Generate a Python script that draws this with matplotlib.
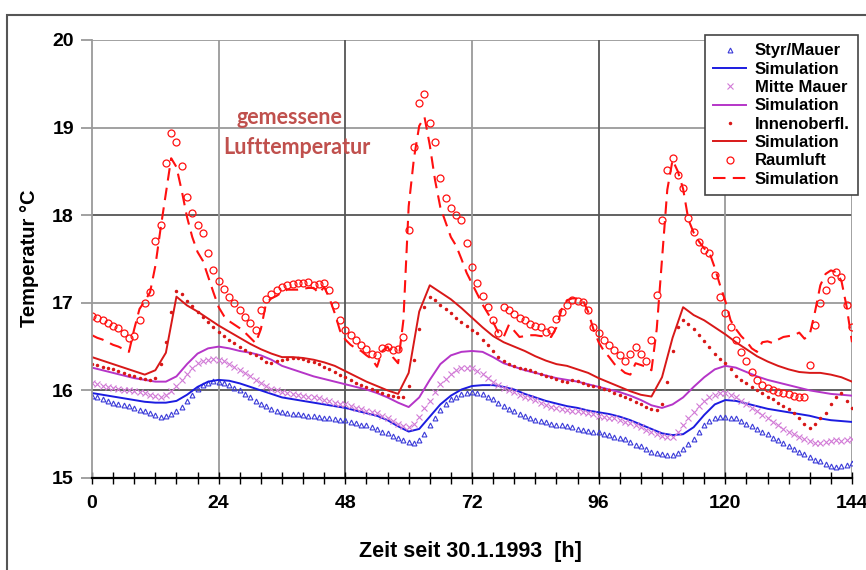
import matplotlib
matplotlib.use('Agg')
import matplotlib.pyplot as plt
from matplotlib.patches import Rectangle

# Stundenwerte (gemessen) und 2-h-Werte (Simulation)
hours = list(range(0, 145))
hours_2h = list(range(0, 145, 2))

styr_mauer = [
    15.94, 15.92, 15.90, 15.88, 15.86, 15.85, 15.83, 15.82, 15.80, 15.78,
    15.76, 15.74, 15.72, 15.70, 15.71, 15.73, 15.76, 15.81, 15.88, 15.95,
    16.02, 16.06, 16.09, 16.11, 16.10, 16.08, 16.06, 16.03, 16.00, 15.96,
    15.92, 15.88, 15.85, 15.82, 15.79, 15.77, 15.75, 15.74, 15.73, 15.73,
    15.72, 15.71, 15.71, 15.70, 15.69, 15.68, 15.67, 15.66, 15.66, 15.64,
    15.63, 15.61, 15.60, 15.58, 15.56, 15.53, 15.51, 15.48, 15.46, 15.43,
    15.41, 15.40, 15.43, 15.50, 15.60, 15.69, 15.78, 15.85, 15.90, 15.93,
    15.96, 15.97, 15.98, 15.97, 15.96, 15.93, 15.90, 15.86, 15.82, 15.79,
    15.76, 15.73, 15.71, 15.68, 15.66, 15.65, 15.64, 15.62, 15.61, 15.60,
    15.59, 15.58, 15.56, 15.55, 15.54, 15.53, 15.52, 15.50, 15.49, 15.47,
    15.46, 15.44, 15.41, 15.38, 15.36, 15.33, 15.30, 15.28, 15.27, 15.26,
    15.26, 15.29, 15.33, 15.39, 15.45, 15.53, 15.60, 15.65, 15.68, 15.70,
    15.70, 15.69, 15.68, 15.65, 15.62, 15.59, 15.56, 15.53, 15.50, 15.46,
    15.43, 15.40, 15.37, 15.33, 15.30, 15.27, 15.24, 15.21, 15.19, 15.16,
    15.14, 15.13, 15.14, 15.15, 15.17]

mitte_mauer = [
    16.08, 16.07, 16.05, 16.04, 16.03, 16.02, 16.01, 16.00, 15.99, 15.98,
    15.97, 15.95, 15.94, 15.93, 15.95, 15.99, 16.05, 16.12, 16.19, 16.26,
    16.31, 16.34, 16.35, 16.36, 16.35, 16.33, 16.30, 16.27, 16.23, 16.20,
    16.16, 16.12, 16.08, 16.05, 16.02, 16.00, 15.98, 15.97, 15.96, 15.95,
    15.94, 15.93, 15.92, 15.91, 15.89, 15.88, 15.86, 15.85, 15.84, 15.82,
    15.80, 15.79, 15.77, 15.75, 15.74, 15.71, 15.68, 15.65, 15.62, 15.59,
    15.58, 15.62, 15.70, 15.80, 15.88, 15.98, 16.07, 16.13, 16.19, 16.23,
    16.26, 16.26, 16.25, 16.22, 16.19, 16.14, 16.10, 16.06, 16.03, 16.00,
    15.98, 15.95, 15.93, 15.91, 15.89, 15.86, 15.83, 15.81, 15.80, 15.79,
    15.78, 15.77, 15.76, 15.75, 15.74, 15.73, 15.71, 15.70, 15.69, 15.68,
    15.66, 15.64, 15.63, 15.61, 15.58, 15.55, 15.52, 15.50, 15.48, 15.47,
    15.47, 15.52, 15.60, 15.68, 15.75, 15.82, 15.88, 15.92, 15.95, 15.97,
    15.97, 15.95, 15.92, 15.88, 15.84, 15.80, 15.76, 15.72, 15.68, 15.64,
    15.60, 15.56, 15.53, 15.50, 15.47, 15.44, 15.42, 15.40, 15.40, 15.41,
    15.42, 15.43, 15.42, 15.43, 15.44]

innenoberfl = [
    16.30, 16.29, 16.27, 16.26, 16.24, 16.22, 16.20, 16.18, 16.16, 16.14,
    16.13, 16.12, 16.14, 16.30, 16.55, 16.90, 17.14, 17.10, 17.02, 16.96,
    16.90, 16.84, 16.78, 16.72, 16.67, 16.62, 16.58, 16.54, 16.50, 16.46,
    16.43, 16.40, 16.37, 16.32, 16.31, 16.33, 16.35, 16.36, 16.37, 16.37,
    16.36, 16.34, 16.32, 16.30, 16.27, 16.24, 16.21, 16.18, 16.15, 16.12,
    16.09, 16.06, 16.04, 16.02, 15.99, 15.97, 15.95, 15.94, 15.93, 15.93,
    16.05, 16.35, 16.70, 16.95, 17.07, 17.03, 16.98, 16.93, 16.88, 16.83,
    16.78, 16.73, 16.69, 16.65, 16.58, 16.52, 16.45, 16.38, 16.33, 16.30,
    16.28, 16.26, 16.24, 16.23, 16.21, 16.19, 16.17, 16.15, 16.13, 16.11,
    16.10, 16.12, 16.11, 16.08, 16.06, 16.05, 16.04, 16.02, 16.00, 15.97,
    15.95, 15.92, 15.90, 15.87, 15.84, 15.81, 15.79, 15.78, 15.85, 16.10,
    16.45, 16.72, 16.80, 16.76, 16.70, 16.63, 16.56, 16.49, 16.42, 16.36,
    16.31, 16.24, 16.17, 16.12, 16.08, 16.04, 16.00, 15.97, 15.93, 15.90,
    15.86, 15.82, 15.79, 15.74, 15.68, 15.62, 15.57, 15.62, 15.68, 15.74,
    15.84, 15.93, 15.97, 15.88, 15.80]

raumluft = [
    16.85, 16.83, 16.80, 16.77, 16.74, 16.71, 16.66, 16.60, 16.62, 16.80,
    17.00, 17.12, 17.70, 17.89, 18.60, 18.94, 18.84, 18.56, 18.21, 18.03,
    17.89, 17.80, 17.57, 17.38, 17.25, 17.16, 17.07, 17.00, 16.92, 16.84,
    16.77, 16.69, 16.92, 17.04, 17.10, 17.15, 17.18, 17.20, 17.21, 17.23,
    17.23, 17.24, 17.20, 17.22, 17.23, 17.15, 16.98, 16.80, 16.69, 16.63,
    16.58, 16.52, 16.47, 16.42, 16.40, 16.48, 16.49, 16.46, 16.47, 16.61,
    17.83, 18.78, 19.28, 19.38, 19.05, 18.84, 18.42, 18.20, 18.08, 18.00,
    17.95, 17.68, 17.41, 17.23, 17.08, 16.95, 16.80, 16.66, 16.95, 16.92,
    16.87, 16.83, 16.80, 16.76, 16.74, 16.72, 16.67, 16.69, 16.82, 16.90,
    16.98, 17.03, 17.02, 17.01, 16.92, 16.72, 16.65, 16.58, 16.52, 16.46,
    16.40, 16.34, 16.42, 16.50, 16.41, 16.33, 16.58, 17.09, 17.95, 18.52,
    18.65, 18.46, 18.31, 17.97, 17.81, 17.69, 17.60, 17.57, 17.32, 17.07,
    16.88, 16.72, 16.58, 16.44, 16.33, 16.21, 16.12, 16.06, 16.03, 16.00,
    15.98, 15.97, 15.96, 15.94, 15.93, 15.92, 16.29, 16.75, 17.00, 17.15,
    17.26, 17.35, 17.30, 16.98, 16.72]

sim_raumluft = [
    16.63, 16.60, 16.58, 16.55, 16.52, 16.50, 16.47, 16.44, 16.70, 16.93,
    17.02, 17.12, 17.42, 17.85, 18.25, 18.65, 18.55, 18.28, 17.98, 17.75,
    17.58, 17.48, 17.30, 17.12, 16.95, 16.85, 16.79, 16.75, 16.71, 16.66,
    16.60, 16.54, 16.70, 17.00, 17.05, 17.08, 17.12, 17.15, 17.15, 17.15,
    17.16, 17.17, 17.17, 17.11, 17.18, 17.05, 16.88, 16.68, 16.58, 16.52,
    16.48, 16.45, 16.40, 16.36, 16.27, 16.45, 16.50, 16.38, 16.31, 16.80,
    18.10, 18.65, 19.02, 19.12, 18.80, 18.40, 18.09, 17.92, 17.75, 17.65,
    17.50, 17.34, 17.22, 17.10, 16.98, 16.88, 16.78, 16.66, 16.61, 16.75,
    16.68, 16.61, 16.62, 16.63, 16.63, 16.62, 16.62, 16.61, 16.72, 16.93,
    17.03, 17.05, 17.05, 17.03, 16.90, 16.70, 16.55, 16.45, 16.38, 16.30,
    16.25, 16.20, 16.18, 16.31, 16.29, 16.27, 16.23, 16.70, 17.50, 18.29,
    18.63, 18.50, 18.30, 17.95, 17.80, 17.70, 17.62, 17.57, 17.40, 17.20,
    17.02, 16.80, 16.70, 16.62, 16.56, 16.48, 16.44, 16.55, 16.56, 16.54,
    16.58, 16.61, 16.62, 16.63, 16.66, 16.59, 16.64, 16.90, 17.20, 17.33,
    17.37, 17.35, 17.25, 16.95, 16.55]

sim_styr = [
    15.97, 15.95, 15.93, 15.91, 15.89, 15.87, 15.86, 15.86, 15.88, 15.95,
    16.04, 16.10, 16.12, 16.11, 16.08, 16.04, 16.00, 15.96, 15.92, 15.90,
    15.88, 15.86, 15.84, 15.82, 15.80, 15.77, 15.74, 15.71, 15.66, 15.59,
    15.53, 15.56, 15.70, 15.84, 15.94, 16.01, 16.05, 16.06, 16.06, 16.04,
    16.01, 15.96, 15.92, 15.88, 15.85, 15.82, 15.80, 15.77, 15.75, 15.73,
    15.70, 15.66, 15.61, 15.56, 15.51, 15.49, 15.50, 15.58, 15.72, 15.84,
    15.89, 15.88, 15.85, 15.82, 15.79, 15.77, 15.75, 15.73, 15.71, 15.68,
    15.66, 15.65, 15.64]

sim_mitte = [
    16.26, 16.23, 16.20, 16.17, 16.14, 16.12, 16.10, 16.10, 16.16, 16.30,
    16.42, 16.48, 16.50, 16.48, 16.45, 16.43, 16.40, 16.35, 16.28, 16.24,
    16.20, 16.16, 16.13, 16.10, 16.07, 16.04, 16.01, 15.97, 15.92, 15.86,
    15.81, 15.92, 16.12, 16.30, 16.40, 16.44, 16.45, 16.44, 16.38, 16.31,
    16.27, 16.23, 16.20, 16.17, 16.14, 16.12, 16.10, 16.07, 16.04, 16.01,
    15.98, 15.94, 15.89, 15.83, 15.80, 15.84, 15.92, 16.04, 16.15, 16.24,
    16.28, 16.26, 16.21, 16.16, 16.12, 16.09, 16.06, 16.03, 16.00, 15.98,
    15.96, 15.95, 15.94]

sim_innen = [
    16.38, 16.34, 16.30, 16.26, 16.22, 16.18, 16.23, 16.43, 17.07, 16.97,
    16.90, 16.82, 16.74, 16.67, 16.60, 16.53, 16.47, 16.42, 16.38, 16.38,
    16.37, 16.35, 16.32, 16.28, 16.22, 16.16, 16.10, 16.05, 16.00, 15.96,
    16.20, 16.90, 17.20, 17.12, 17.04, 16.94, 16.83, 16.72, 16.62, 16.55,
    16.50, 16.45, 16.39, 16.34, 16.30, 16.28, 16.24, 16.20, 16.14, 16.09,
    16.04, 15.99, 15.95, 15.93, 16.15, 16.60, 16.95, 16.86, 16.80, 16.72,
    16.64, 16.55, 16.47, 16.39, 16.33, 16.28, 16.24, 16.21, 16.20, 16.20,
    16.18, 16.15, 16.10]

x_ticks = [0, 24, 48, 72, 96, 120, 144]
y_ticks = [15, 16, 17, 18, 19, 20]

plt.rcParams['font.family'] = ['Liberation Sans', 'DejaVu Sans']

W, H = 866, 570
fig = plt.figure(figsize=(W / 100, H / 100), dpi=100)
ax = fig.add_axes([92 / W, 1 - 478 / H, (852 - 92) / W, (478 - 40) / H])

blue = '#1c1ce0'
blue_m = '#3a3ad8'
violet = '#b535c8'
violet_m = '#d27ad6'
red = '#ff1010'
red_d = '#d81818'

# Gitter (einige Linien dunkler wie im Original)
for y in [16, 17, 18, 19, 20]:
    c = '#555555' if y in (16, 18) else '#9a9a9a'
    ax.axhline(y, color=c, lw=1.3, zorder=0.5)
for x in [24, 48, 72, 96, 120, 144]:
    c = '#555555' if x in (48, 96) else '#9a9a9a'
    ax.axvline(x, color=c, lw=1.3, zorder=0.5)

h1, = ax.plot(hours, styr_mauer, ls='none', marker='^', ms=3.5, mfc='none',
              mec=blue_m, mew=0.8, label='Styr/Mauer')
h2, = ax.plot(hours_2h, sim_styr, color=blue, lw=1.4, label='Simulation')
h3, = ax.plot(hours, mitte_mauer, ls='none', marker='x', ms=4, mec=violet_m,
              mew=0.8, label='Mitte Mauer')
h4, = ax.plot(hours_2h, sim_mitte, color=violet, lw=1.4, label='Simulation')
h5, = ax.plot(hours, innenoberfl, ls='none', marker='.', ms=3, color=red_d,
              label='Innenoberfl.')
h6, = ax.plot(hours_2h, sim_innen, color=red_d, lw=1.4, label='Simulation')
h7, = ax.plot(hours, raumluft, ls='none', marker='o', ms=5, mfc='none',
              mec=red, mew=0.9, label='Raumluft')
h8, = ax.plot(hours, sim_raumluft, color=red, lw=1.5, dashes=(6, 3.5),
              label='Simulation')

ax.set_xlim(0, 144)
ax.set_ylim(15, 20)
ax.set_xticks(x_ticks)
ax.set_xticks(range(0, 145, 4), minor=True)
ax.set_yticks(y_ticks)
ax.tick_params(axis='x', which='both', direction='inout', length=8,
               width=1, color='black', pad=8, labelsize=14)
ax.tick_params(axis='y', direction='out', length=8, width=1.3,
               color='#9a9a9a', pad=5, labelsize=14)
for lab in ax.get_xticklabels() + ax.get_yticklabels():
    lab.set_fontweight('bold')

ax.spines['bottom'].set_color('black')
ax.spines['bottom'].set_linewidth(1.6)
ax.spines['left'].set_color('#9a9a9a')
ax.spines['left'].set_linewidth(1.3)
ax.spines['top'].set_visible(False)
ax.spines['right'].set_visible(False)

ax.text(37.4, 19.12, 'gemessene', color='#c0504d', fontsize=15.5,
        fontweight='bold', family=['Lato', 'DejaVu Sans'], ha='center', va='center')
ax.text(38.9, 18.77, 'Lufttemperatur', color='#c0504d', fontsize=15.5,
        fontweight='bold', family=['Lato', 'DejaVu Sans'], ha='center', va='center')

fig.text(30 / W, 1 - 258 / H, 'Temperatur °C', rotation=90, fontsize=14.5,
         fontweight='bold', ha='center', va='center')
fig.text(470 / W, 1 - 551 / H, 'Zeit seit 30.1.1993  [h]', fontsize=15.5,
         fontweight='bold', ha='center', va='center')

leg = ax.legend([h1, h2, h3, h4, h5, h6, h7, h8],
                ['Styr/Mauer', 'Simulation', 'Mitte Mauer', 'Simulation',
                 'Innenoberfl.', 'Simulation', 'Raumluft', 'Simulation'],
                loc='upper right', bbox_to_anchor=(858 / W, 1 - 35 / H),
                bbox_transform=fig.transFigure, prop={'weight': 'bold', 'size': 12},
                fancybox=False, edgecolor='#444444', framealpha=1,
                borderpad=0.5, labelspacing=0.2, handlelength=2.0,
                handletextpad=0.5, borderaxespad=0)
leg.get_frame().set_linewidth(1.2)

# äußerer Rahmen
fig.add_artist(Rectangle((7 / W, -0.5), 2, 1 - 15 / H + 0.5,
                         transform=fig.transFigure, fill=False,
                         edgecolor='#555555', lw=1.5))

fig.savefig('out.png', dpi=100)
